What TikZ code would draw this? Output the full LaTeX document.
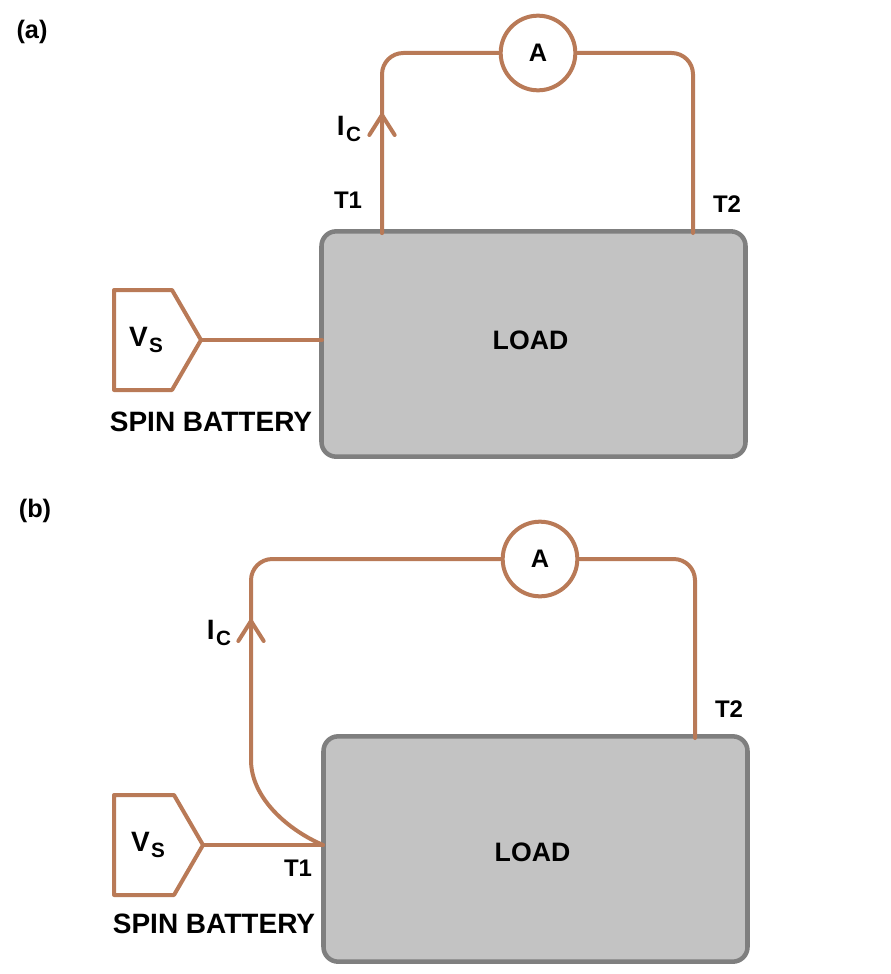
\documentclass[tikz,border=0pt]{standalone}
\usepackage{fontspec}
\setmainfont{Liberation Sans}
\usetikzlibrary{arrows.meta}
\definecolor{wirecol}{RGB}{185,122,87}
\definecolor{loadcol}{RGB}{195,195,195}
\definecolor{edgecol}{RGB}{127,127,127}
\tikzset{
  wire/.style={draw=wirecol,line width=3pt,line cap=round,line join=round},
  loadbox/.style={draw=edgecol,fill=loadcol,line width=3.4pt,rounded corners=11pt},
  meter/.style={circle,draw=wirecol,line width=3pt,fill=white,minimum size=56pt,inner sep=0pt,font=\bfseries\fontsize{19}{20}\selectfont},
  tag/.style={font=\bfseries\fontsize{19}{21}\selectfont,inner sep=0pt},
  lbl/.style={font=\bfseries\fontsize{18}{20}\selectfont,inner sep=0pt},
  sym/.style={font=\bfseries\fontsize{21}{23}\selectfont,inner sep=0pt},
  big/.style={font=\bfseries\fontsize{20}{22}\selectfont,inner sep=0pt},
  spin/.style={font=\bfseries\fontsize{21}{23}\selectfont,inner sep=0pt},
  head/.style={-{Straight Barb[length=15pt,width=19pt,line width=3pt,round]}}
}
\newcommand{\Subtext}[2]{#1\raisebox{-5pt}{\kern1pt\bfseries\fontsize{15.5}{17}\selectfont #2}}
\begin{document}
\begin{tikzpicture}[x=0.75pt,y=-0.75pt]
  \useasboundingbox (0,0) rectangle (890,974);
  % panel (a)
  \node[tag] (taga) at (32,32) {(a)};
  \node[loadbox,minimum width=318pt,minimum height=169pt] (loada) at (533.5,344) {};
  \node[big] (loadtexta) at (530.5,340) {LOAD};
  \node[meter] (metera) at (538,53) {A};
  \coordinate (t1a) at (382,233);
  \coordinate (t2a) at (693,233);
  \draw[wire,rounded corners=16pt] (t1a) -- (382,53) -- (metera.west);
  \draw[wire,rounded corners=16pt] (metera.east) -- (693,53) -- (t2a);
  \draw[wire,head] (t1a) -- (382,113);
  \node[sym] (ica) at (349,129) {\Subtext{I}{C}};
  \node[lbl] (t1texta) at (348,200) {T1};
  \node[lbl] (t2texta) at (727,204) {T2};
  \coordinate (tipa) at (201,340);
  \coordinate (enda) at (322,340);
  \draw[wire] (114,290) -- (172,290) -- (tipa) -- (172,390) -- (114,390) -- cycle;
  \draw[wire] (tipa) -- (enda);
  \node[sym] (vsa) at (146,340) {\Subtext{V}{S}};
  \node[spin] (spina) at (211,422) {SPIN BATTERY};
  % panel (b)
  \node[tag] (tagb) at (35,511) {(b)};
  \node[loadbox,minimum width=318pt,minimum height=169pt] (loadb) at (535.5,849) {};
  \node[big] (loadtextb) at (532.5,852) {LOAD};
  \node[meter] (meterb) at (540,559) {A};
  \coordinate (t1b) at (323,845);
  \coordinate (t2b) at (695,738);
  \coordinate (bendb) at (251,760);
  \draw[wire,rounded corners=16pt] (bendb) -- (251,559) -- (meterb.west);
  \draw[wire,rounded corners=16pt] (meterb.east) -- (695,559) -- (t2b);
  \draw[wire] (t1b) .. controls (288,830) and (251,798) .. (bendb);
  \draw[wire,head] (bendb) -- (251,619);
  \node[sym] (icb) at (219,633) {\Subtext{I}{C}};
  \node[lbl] (t1textb) at (298,868) {T1};
  \node[lbl] (t2textb) at (729,709) {T2};
  \coordinate (tipb) at (203,845);
  \draw[wire] (114,795) -- (174,795) -- (tipb) -- (174,895) -- (114,895) -- cycle;
  \draw[wire] (tipb) -- (t1b);
  \node[sym] (vsb) at (148,845) {\Subtext{V}{S}};
  \node[spin] (spinb) at (214,924) {SPIN BATTERY};
\end{tikzpicture}
\end{document}
